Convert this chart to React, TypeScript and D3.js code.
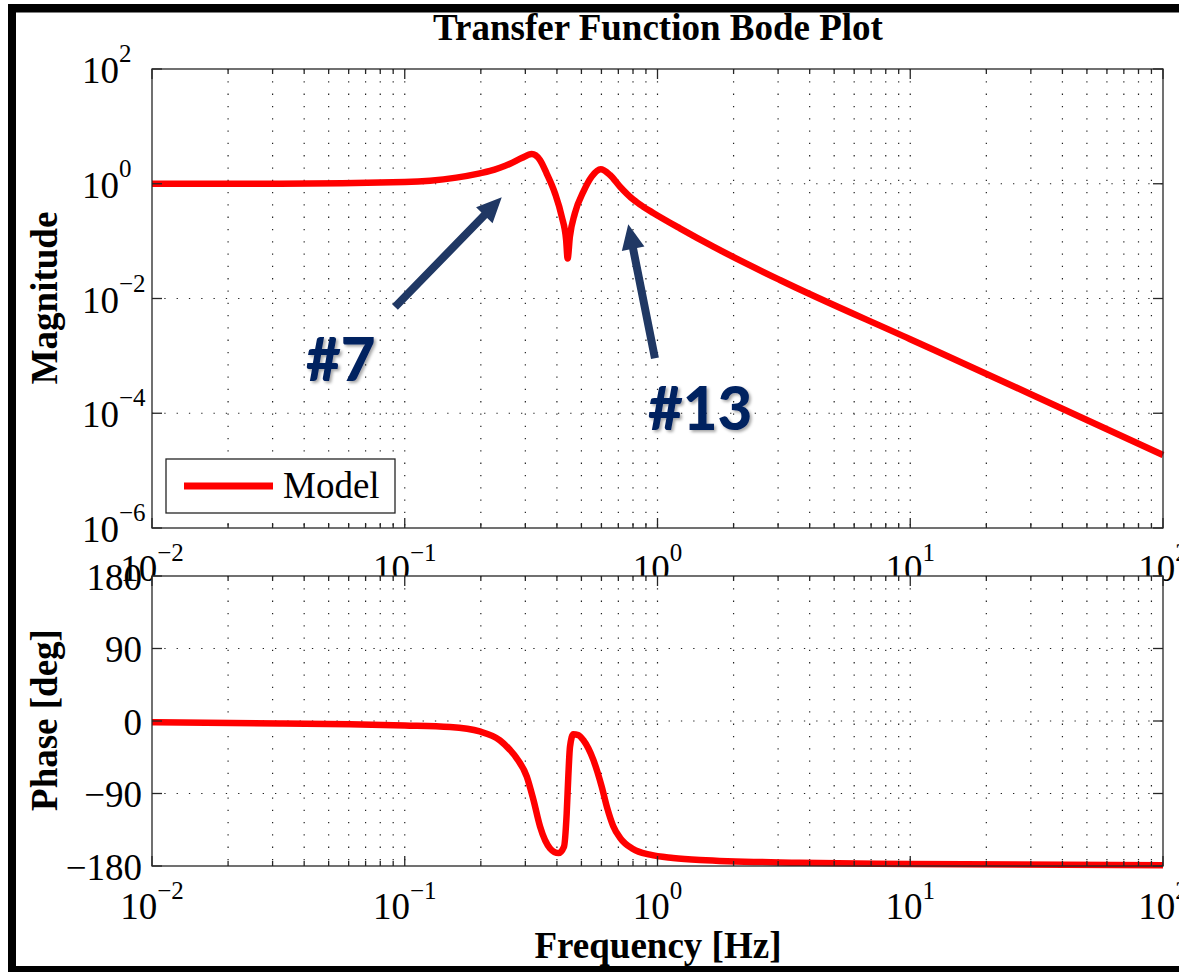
import React from 'react';
import * as d3 from 'd3';

// ---------- data ----------
const freqMag = [0.01, 0.032, 0.1, 0.126, 0.16, 0.198, 0.2175, 0.238, 0.261, 0.29, 0.318, 0.343, 0.364, 0.393, 0.418, 0.435, 0.441, 0.45, 0.471, 0.509, 0.549, 0.596, 0.649, 0.711, 0.802, 0.876, 0.962, 1.227, 1.663, 3.05, 10, 30, 100];
const magnitude = [1.0, 1.0, 1.07, 1.13, 1.28, 1.52, 1.67, 1.9, 2.23, 2.8, 3.3, 2.59, 1.52, 0.68, 0.267, 0.105, 0.05, 0.119, 0.305, 0.727, 1.33, 1.79, 1.42, 0.889, 0.53, 0.4, 0.31, 0.167, 0.08, 0.021, 0.00195, 0.000215, 0.0000187];

const freqPhase = [0.01, 0.032, 0.0607, 0.1, 0.151, 0.198, 0.238, 0.261, 0.277, 0.304, 0.323, 0.343, 0.3755, 0.4058, 0.4266, 0.4372, 0.4437, 0.4506, 0.4644, 0.486, 0.5085, 0.557, 0.6015, 0.631, 0.667, 0.711, 0.8, 0.934, 1.152, 1.473, 3.66, 10, 100];
const phaseDeg = [-1.5, -3, -4, -5.5, -7.5, -13, -24, -36, -46, -69, -98, -131, -158, -164, -156, -115, -69, -32, -16.5, -17.5, -23.6, -48, -81.5, -107, -130, -145, -159, -166, -170, -172.5, -176, -177.5, -179];

const freqTicks = [0.01, 0.1, 1, 10, 100];
const magTicks = [1e2, 1e0, 1e-2, 1e-4, 1e-6];
const phaseTicks = [180, 90, 0, -90, -180];

const titleText = 'Transfer Function Bode Plot';
const magLabel = 'Magnitude';
const phaseLabel = 'Phase [deg]';
const freqLabel = 'Frequency [Hz]';
const legendLabels = ['Model'];

const annotationLabels = ['#7', '#13'];
const annotationTip = [[0.242, 0.58], [0.766, 0.1965]];
const annotationTail = [[0.0915, 0.00711], [0.977, 0.000907]];
const annotationText = [[0.0407, 0.000369], [0.917, 0.000051]];

// ---------- layout ----------
const W = 1179;
const H = 972;
const X0 = 152;
const X1 = 1163;
const TOP = { t: 69, b: 528 };
const BOT = { t: 576, b: 866 };
const SERIF = '"Liberation Serif", "Times New Roman", serif';
const FS = 37;
const SUP = 25;
const RED = '#ff0000';
const AX = '#262626';
const NAVY = '#002060';
const ARROW = '#203864';

const x = d3.scaleLog().domain([0.01, 100]).range([X0, X1]);
const yMag = d3.scaleLog().domain([1e-6, 1e2]).range([TOP.b, TOP.t]);
const yPh = d3.scaleLinear().domain([-180, 180]).range([BOT.b, BOT.t]);

const minorFreq: number[] = [];
for (let d = -2; d <= 1; d++) for (let k = 2; k <= 9; k++) minorFreq.push(k * Math.pow(10, d));

const expStr = (v: number) => {
  const e = Math.round(Math.log10(v));
  return e < 0 ? '\u2212' + Math.abs(e) : String(e);
};
const numStr = (v: number) => (v < 0 ? '\u2212' + Math.abs(v) : String(v));

function Grid({ t, b, yVals, yScale }: { t: number; b: number; yVals: number[]; yScale: (v: number) => number }) {
  const dash = '1.3 11';
  return (
    <g stroke="#222" strokeWidth={1.2} strokeDasharray={dash}>
      {[...minorFreq, 0.1, 1, 10].map((f, i) => (
        <line key={'v' + i} x1={x(f)} x2={x(f)} y1={t} y2={b} />
      ))}
      {yVals.map((v, i) => (
        <line key={'h' + i} x1={X0} x2={X1} y1={yScale(v)} y2={yScale(v)} />
      ))}
    </g>
  );
}

function Ticks({ t, b, yVals, yScale }: { t: number; b: number; yVals: number[]; yScale: (v: number) => number }) {
  return (
    <g stroke={AX} strokeWidth={1.3}>
      {minorFreq.map((f, i) => (
        <g key={'m' + i}>
          <line x1={x(f)} x2={x(f)} y1={b} y2={b - 5} />
          <line x1={x(f)} x2={x(f)} y1={t} y2={t + 5} />
        </g>
      ))}
      {freqTicks.map((f, i) => (
        <g key={'M' + i}>
          <line x1={x(f)} x2={x(f)} y1={b} y2={b - 10} />
          <line x1={x(f)} x2={x(f)} y1={t} y2={t + 10} />
        </g>
      ))}
      {yVals.map((v, i) => (
        <g key={'y' + i}>
          <line x1={X0} x2={X0 + 10} y1={yScale(v)} y2={yScale(v)} />
          <line x1={X1} x2={X1 - 10} y1={yScale(v)} y2={yScale(v)} />
        </g>
      ))}
      <rect x={X0} y={t} width={X1 - X0} height={b - t} fill="none" />
    </g>
  );
}

function XLabels({ b }: { b: number }) {
  return (
    <g fontFamily={SERIF} fontSize={FS} fill="#000">
      {freqTicks.map((f, i) => (
        <text key={i} x={x(f)} y={b + 53} textAnchor="middle">
          <tspan>10</tspan>
          <tspan dy={-20} fontSize={SUP}>{expStr(f)}</tspan>
        </text>
      ))}
    </g>
  );
}

function arrowPoints(tip: number[], tail: number[]) {
  const tx = x(tip[0]);
  const ty = yMag(tip[1]);
  const sx = x(tail[0]);
  const sy = yMag(tail[1]);
  const len = Math.hypot(tx - sx, ty - sy);
  const ux = (tx - sx) / len;
  const uy = (ty - sy) / len;
  const nx = -uy;
  const ny = ux;
  const headLen = 25;
  const hh = 11.5;
  const sh = 4;
  const bx = tx - ux * headLen;
  const by = ty - uy * headLen;
  const pts = [
    [sx + nx * sh, sy + ny * sh],
    [bx + nx * sh, by + ny * sh],
    [bx + nx * hh, by + ny * hh],
    [tx, ty],
    [bx - nx * hh, by - ny * hh],
    [bx - nx * sh, by - ny * sh],
    [sx - nx * sh, sy - ny * sh],
  ];
  return pts.map((p) => p.join(',')).join(' ');
}

export default function App() {
  const magData: [number, number][] = freqMag.map((f, i) => [f, magnitude[i]]);
  const phData: [number, number][] = freqPhase.map((f, i) => [f, phaseDeg[i]]);
  const magLine = d3
    .line<[number, number]>()
    .x((d) => x(d[0]))
    .y((d) => yMag(d[1]))
    .curve(d3.curveMonotoneX);
  const phLine = d3
    .line<[number, number]>()
    .x((d) => x(d[0]))
    .y((d) => yPh(d[1]))
    .curve(d3.curveMonotoneX);

  return (
    <svg
      width={W}
      height={H}
      viewBox={`0 0 ${W} ${H}`}
      style={{ position: 'absolute', left: 0, top: 0, background: '#fff' }}
    >
      <defs>
        <filter id="shadow" x="-20%" y="-20%" width="140%" height="140%">
          <feDropShadow dx={2} dy={2} stdDeviation={1.5} floodColor="#000" floodOpacity={0.35} />
        </filter>
      </defs>
      <rect x={0} y={0} width={W} height={H} fill="#fff" />

      {/* title */}
      <text x={658} y={40} textAnchor="middle" fontFamily={SERIF} fontWeight="bold" fontSize={FS} fill="#000">
        {titleText}
      </text>

      {/* ---------- magnitude axes ---------- */}
      <rect x={X0} y={TOP.t} width={X1 - X0} height={TOP.b - TOP.t} fill="#fff" />
      <Grid t={TOP.t} b={TOP.b} yVals={magTicks.slice(1, -1)} yScale={yMag} />
      <path d={magLine(magData) || ''} fill="none" stroke={RED} strokeWidth={6.5} strokeLinejoin="round" />
      <Ticks t={TOP.t} b={TOP.b} yVals={magTicks} yScale={yMag} />
      <g fontFamily={SERIF} fontSize={FS} fill="#000">
        {magTicks.map((v, i) => (
          <text key={i} x={82} y={yMag(v) + 14} textAnchor="start">
            <tspan>10</tspan>
            <tspan dy={-21} fontSize={SUP}>{expStr(v)}</tspan>
          </text>
        ))}
      </g>
      <XLabels b={TOP.b} />

      {/* legend */}
      <rect x={166} y={459} width={229} height={54} fill="#fff" stroke={AX} strokeWidth={1.3} />
      <line x1={184} x2={273} y1={486} y2={486} stroke={RED} strokeWidth={7} />
      <text x={283} y={498} fontFamily={SERIF} fontSize={FS} fill="#000">
        {legendLabels[0]}
      </text>

      {/* annotations */}
      {annotationLabels.map((lab, i) => (
        <g key={lab}>
          <polygon points={arrowPoints(annotationTip[i], annotationTail[i])} fill={ARROW} />
          <text
            x={x(annotationText[i][0])}
            y={yMag(annotationText[i][1])}
            fontFamily='Lato, "Open Sans", sans-serif'
            fontWeight={900}
            fontSize={60}
            fill={NAVY}
            filter="url(#shadow)"
          >
            {lab}
          </text>
        </g>
      ))}

      {/* ---------- phase axes ---------- */}
      <rect x={X0} y={BOT.t} width={X1 - X0} height={BOT.b - BOT.t} fill="#fff" />
      <Grid t={BOT.t} b={BOT.b} yVals={phaseTicks.slice(1, -1)} yScale={yPh} />
      <path d={phLine(phData) || ''} fill="none" stroke={RED} strokeWidth={6.5} strokeLinejoin="round" />
      <Ticks t={BOT.t} b={BOT.b} yVals={phaseTicks} yScale={yPh} />
      <g fontFamily={SERIF} fontSize={FS} fill="#000">
        {phaseTicks.map((v, i) => (
          <text key={i} x={142} y={yPh(v) + 13.5} textAnchor="end">
            {numStr(v)}
          </text>
        ))}
      </g>
      <XLabels b={BOT.b} />

      {/* axis labels */}
      <g fontFamily={SERIF} fontWeight="bold" fontSize={FS} fill="#000" textAnchor="middle">
        <text transform={`translate(57,298) rotate(-90)`}>{magLabel}</text>
        <text transform={`translate(57,720) rotate(-90)`}>{phaseLabel}</text>
        <text x={658} y={958}>{freqLabel}</text>
      </g>

      {/* outer frame */}
      <g fill="#000">
        <rect x={8} y={4} width={W - 8} height={8.5} />
        <rect x={8} y={4} width={8} height={H - 4} />
        <rect x={8} y={966} width={W - 8} height={6} />
      </g>
    </svg>
  );
}
